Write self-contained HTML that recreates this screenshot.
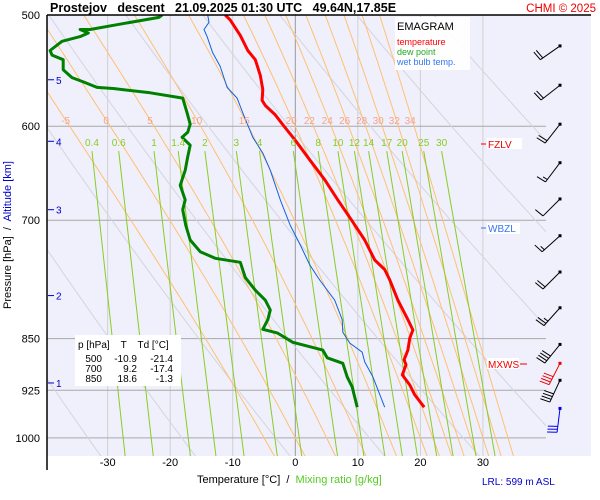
<!DOCTYPE html>
<html><head><meta charset="utf-8"><style>
body{margin:0;background:#fff;}
svg{display:block;font-family:"Liberation Sans",sans-serif;}
</style></head><body>
<svg id="c" width="600" height="500" viewBox="0 0 600 500">
<rect x="47" y="15" width="544" height="441" fill="#f0f0fc"/>
<g id="grid"></g><g id="lines"></g><g id="series"></g><g id="barbs"></g><g id="labels"></g>
<g>
<text x="50" y="12" font-size="12.5" font-weight="bold" fill="#000" xml:space="preserve">Prostejov   descent   21.09.2025 01:30 UTC   49.64N,17.85E</text>
<text x="596" y="12" font-size="11.5" fill="#e00" text-anchor="end">CHMI © 2025</text>
<line x1="47" y1="15" x2="591" y2="15" stroke="#000" stroke-width="1.5"/>
</g>
<line x1="47" y1="15" x2="47" y2="470" stroke="#000" stroke-width="1.5"/>
<g>
<rect x="395" y="17" width="75" height="53" fill="#fff" opacity="0.9"/>
<text x="397" y="30" font-size="11" fill="#000">EMAGRAM</text>
<text x="397" y="45" font-size="9" fill="#f00">temperature</text>
<text x="397" y="55" font-size="9" fill="#2a2">dew point</text>
<text x="397" y="65" font-size="9" fill="#3377ee">wet bulb temp.</text>
</g>
<g>
<rect x="487" y="138" width="35" height="11" fill="#fff"/>
<line x1="481" y1="144" x2="486" y2="144" stroke="#e00"/>
<text x="488" y="148" font-size="10" fill="#e00">FZLV</text>
<rect x="487" y="223" width="33" height="11" fill="#fff"/>
<line x1="481" y1="228" x2="486" y2="228" stroke="#3377ee"/>
<text x="488" y="232" font-size="10" fill="#3377ee">WBZL</text>
<rect x="487" y="358" width="32" height="11" fill="#fff"/>
<line x1="520" y1="364" x2="527" y2="364" stroke="#e00"/>
<text x="488" y="368" font-size="10" fill="#e00">MXWS</text>
</g>
<g>
<rect x="75" y="335" width="106" height="51" fill="#fff"/>
<text x="78" y="348" font-size="10" fill="#000" xml:space="preserve">p [hPa]    T    Td [°C]</text>
<text x="102" y="362" font-size="10" text-anchor="end">500</text><text x="137" y="362" font-size="10" text-anchor="end">-10.9</text><text x="173" y="362" font-size="10" text-anchor="end">-21.4</text>
<text x="102" y="372" font-size="10" text-anchor="end">700</text><text x="137" y="372" font-size="10" text-anchor="end">9.2</text><text x="173" y="372" font-size="10" text-anchor="end">-17.4</text>
<text x="102" y="382" font-size="10" text-anchor="end">850</text><text x="137" y="382" font-size="10" text-anchor="end">18.6</text><text x="173" y="382" font-size="10" text-anchor="end">-1.3</text>
</g>
<text x="197" y="483" font-size="11" fill="#000" xml:space="preserve">Temperature [°C]  /  <tspan fill="#55cc22">Mixing ratio [g/kg]</tspan></text>
<text x="482" y="485" font-size="10" fill="#00c">LRL: 599 m ASL</text>
<text transform="translate(11,235) rotate(-90)" font-size="11" text-anchor="middle" fill="#000" xml:space="preserve">Pressure [hPa]  /  <tspan fill="#00c">Altitude [km]</tspan></text>
</svg>
<script>
const tempP=[500,504,517,530,538,552,565,575,580,589,600,614,634,655,677,700,723,747,759,772,798,824,838,849,866,880,887,902,917,932,951];
const tempT=[-11.2,-10.4,-8.8,-7.6,-6.4,-5.6,-5.2,-5.3,-4.8,-3.2,-1.8,0,2.3,4.7,6.8,9.0,11.1,12.7,14.3,15.1,16.4,18.0,18.8,18.3,18.0,17.4,17.7,17.1,18.3,19.1,20.6];
const dewP=[500,502,508,512,512,515,518,522,530,534,538,547,554,558,563,564,568,573,587,598,606,611,619,631,645,661,677,688,706,723,737,745,750,769,785,798,811,824,837,842,855,866,877,885,905,920,951];
const dewT=[-21.3,-21.8,-28.5,-32.8,-34.4,-33.1,-34.4,-37.3,-39.2,-38.9,-37.1,-37.1,-35.7,-33.9,-31.7,-29.1,-23.2,-18.0,-17.3,-16.8,-17.2,-18.1,-16.8,-17.2,-17.6,-18.4,-17.6,-18.0,-17.5,-16.8,-15.2,-12.8,-8.8,-8.0,-6.4,-4.8,-4.0,-4.4,-5.2,-2.9,-0.4,4.4,5.1,7.6,8.3,9.1,9.9];
const wbP=[500,506,512,518,532,544,563,573,587,611,627,645,677,706,729,753,772,798,824,841,856,869,883,905,951];
const wbT=[-14.0,-13.8,-14.6,-14.1,-13.2,-12.0,-10.9,-9.3,-8.4,-6.8,-5.2,-4.0,-2.4,-0.8,0.8,2.3,3.9,6.3,7.5,7.6,8.7,10.7,11.1,12.4,14.3];
const tempTicks=[-30,-20,-10,0,10,20,30];
const presTicks=[500,600,700,850,925,1000];
const moistLabels=[-5,0,5,10,15,20,22,24,26,28,30,32,34];
const mixLabels=[0.4,0.6,1,1.4,2,3,4,6,8,10,12,14,17,20,25,30];
const dryTheta=[240,255,270,285,300,315,330,345,360];
const altKm=[1,2,3,4,5];
const altP=[914,792,688,615,556];
const windP=[526,561,598,637,676,718,762,808,858,885,910,953];
const windDir=[235,232,218,217,225,228,225,222,219,207,205,187];
const windSpd=[20,20,20,15,10,15,20,25,40,40,40,30];
const windCol=['#000','#000','#000','#000','#000','#000','#000','#000','#000','#e00','#000','#00e'];

const X=t=>295.3+6.255*t;
const Y=p=>15+610*Math.log(p/500);
const NS='http://www.w3.org/2000/svg';
function mk(par,tag,at){const e=document.createElementNS(NS,tag);for(const k in at)e.setAttribute(k,at[k]);document.getElementById(par).appendChild(e);return e;}
const defs=document.createElementNS(NS,'defs');defs.innerHTML='<clipPath id="cp"><rect x="47" y="15" width="499" height="441"/></clipPath>';
document.getElementById('c').prepend(defs);
document.getElementById('lines').setAttribute('clip-path','url(#cp)');
document.getElementById('series').setAttribute('clip-path','url(#cp)');

tempTicks.forEach(t=>{
  const l=mk('grid','line',{x1:X(t),x2:X(t),y1:15,y2:456,stroke:t===0?'#999':'#d0d0d0','stroke-width':1});
  
  
  const tx=mk('labels','text',{x:X(t),y:466,'font-size':11,'text-anchor':'middle',fill:'#000'});
  
  
  tx.textContent=t;
});
presTicks.forEach(p=>{
  const l=mk('grid','line',{x1:47,x2:546,y1:Y(p),y2:Y(p),stroke:'#a8a8a8','stroke-width':1});
  
  
  const tx=mk('labels','text',{x:40,y:Y(p)+4,'font-size':11,'text-anchor':'end',fill:'#000'});
  
  
  tx.textContent=p;
});
dryTheta.forEach(th=>{
  let d='';for(let p=480;p<=1060;p+=20){const T=th*Math.pow(p/1000,0.286)-273.15;d+=(d?'L':'M')+X(T).toFixed(1)+','+Y(p).toFixed(1);}
  const e=mk('lines','path',{d:d,fill:'none',stroke:'#d4d4dc','stroke-width':1});
  
  
});
function esat(T){return 6.112*Math.exp(17.67*T/(T+243.5));}
function moistStep(Tk,p){const rs=0.622*esat(Tk-273.15)/(p-esat(Tk-273.15));const Lv=2.5e6,Rd=287,cp=1004;
  return (1/p)*(Rd*Tk+Lv*rs)/(cp+Lv*Lv*rs*0.622/(Rd*Tk*Tk));}
function moist(thw){const pts=[];let T=thw+273.15;
  for(let p=1000;p>=480;p-=5){pts.push([p,T]);T-=moistStep(T,p)*5;}
  const up=pts.reverse();let T2=thw+273.15;const down=[];
  for(let p=1000;p<=1060;p+=5){down.push([p,T2]);T2+=moistStep(T2,p)*5;}
  return up.concat(down);}
moistLabels.forEach(th=>{
  const pts=moist(th);const d=pts.map((q,i)=>(i?'L':'M')+X(q[1]-273.15).toFixed(1)+','+Y(q[0]).toFixed(1)).join('');
  const e=mk('lines','path',{d:d,fill:'none',stroke:'#ffc070','stroke-width':1});
  
  
  const T600=pts.find(q=>q[0]===600)[1]-273.15;
  const tx=mk('labels','text',{x:X(T600)-4,y:124,'font-size':10,'text-anchor':'middle',fill:'#f4a488'});
  
  
  tx.textContent=th;
});
function tdOf(w,p){const e=w*p/(622+w);const a=Math.log(e/6.112);return 243.5*a/(17.67-a);}
mixLabels.forEach(w=>{
  const e=mk('lines','line',{x1:X(tdOf(w,625)),y1:Y(625),x2:X(tdOf(w,1035)),y2:Y(1035),stroke:'#88cc22','stroke-width':1});
  
  
  const tx=mk('labels','text',{x:X(tdOf(w,625)),y:146,'font-size':10,'text-anchor':'middle',fill:'#88cc22'});
  
  
  tx.textContent=w;
});
function series(P,T,col,w,name){
  const d=P.map((p,i)=>(i?'L':'M')+X(T[i]).toFixed(1)+','+Y(p).toFixed(1)).join('');
  const e=mk('series','path',{d:d,fill:'none',stroke:col,'stroke-width':w,'stroke-linejoin':'round'});
  
  
}
series(wbP,wbT,'#1060e0',1,'wet-bulb-line');
series(dewP,dewT,'#008000',3,'dew-point-line');
series(tempP,tempT,'#ff0000',3,'temperature-line');
altKm.forEach((k,i)=>{
  const y=Y(altP[i]);
  const l=mk('labels','line',{x1:48,x2:54,y1:y,y2:y,stroke:'#00c','stroke-width':1});
  
  
  const tx=mk('labels','text',{x:56,y:y+4,'font-size':10,fill:'#00c'});
  
  
  tx.textContent=k;
});
windP.forEach((p,i)=>{
  const y0=Y(p),x0=560,a=windDir[i]*Math.PI/180,L=24;
  const ux=Math.sin(a),uy=-Math.cos(a);
  const ex=x0+ux*L,ey=y0+uy*L;
  const g=document.createElementNS(NS,'g');document.getElementById('barbs').appendChild(g);
  
  
  const c=windCol[i];
  g.innerHTML='<line x1="'+x0+'" y1="'+y0+'" x2="'+ex+'" y2="'+ey+'" stroke="'+c+'"/><rect x="'+(x0-1.5)+'" y="'+(y0-1.5)+'" width="3" height="3" fill="'+c+'"/>';
  let fx=-uy+0.1*ux, fy=ux+0.1*uy; const n=Math.hypot(fx,fy); fx/=n; fy/=n;
  let s=windSpd[i],k=0;
  while(s>=5){const len=s>=10?10:5;const bx=ex-ux*3*k,by=ey-uy*3*k;
    const ln=document.createElementNS(NS,'line');ln.setAttribute('x1',bx);ln.setAttribute('y1',by);ln.setAttribute('x2',bx+fx*len);ln.setAttribute('y2',by+fy*len);ln.setAttribute('stroke',c);g.appendChild(ln);
    s-=s>=10?10:5;k++;}
});
</script>
</body></html>
